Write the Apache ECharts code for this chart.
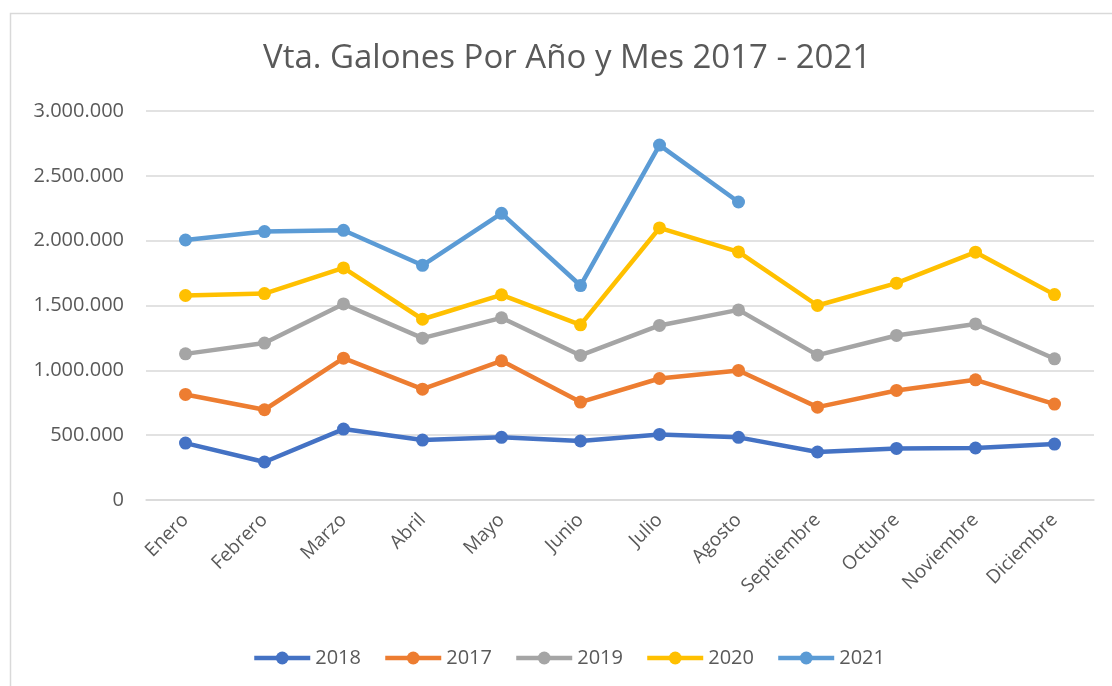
<!DOCTYPE html>
<html><head><meta charset="utf-8">
<script src="https://cdn.jsdelivr.net/npm/echarts@6/dist/echarts.min.js"></script>
<style>html,body{margin:0;padding:0;background:#fff}#c{width:1112px;height:686px}</style>
</head><body><div id="c"></div>
<script>
const months = ['Enero','Febrero','Marzo','Abril','Mayo','Junio','Julio','Agosto','Septiembre','Octubre','Noviembre','Diciembre'];
const s2018 = [439000,293000,547000,462000,483000,455000,506000,483000,370000,398000,401000,431000];
const s2017 = [814000,696000,1094000,855000,1073000,755000,937000,999000,716000,845000,927000,740000];
const s2019 = [1127000,1210000,1512000,1248000,1405000,1115000,1346000,1466000,1117000,1269000,1358000,1089000];
const s2020 = [1577000,1592000,1790000,1394000,1582000,1351000,2098000,1913000,1500000,1672000,1911000,1584000];
const s2021 = [2005000,2070000,2080000,1810000,2211000,1654000,2737000,2298000,null,null,null,null];
const seriesNames = ['2018','2017','2019','2020','2021'];
const seriesData = [s2018,s2017,s2019,s2020,s2021];
const colors = ['#4472C4','#ED7D31','#A5A5A5','#FFC000','#5B9BD5'];
const titleText = 'Vta. Galones Por Año y Mes 2017 - 2021';

const FONT = '"Open Sans", "Noto Sans", sans-serif';
const chart = echarts.init(document.getElementById('c'), null, {renderer:'canvas'});
function fmt(v){ return String(v).replace(/\B(?=(\d{3})+(?!\d))/g,'.'); }
chart.setOption({
  animation:false,
  backgroundColor:'#fff',
  graphic:[{type:'rect', shape:{x:10.5,y:13.5,width:1120,height:700}, style:{fill:'none',stroke:'#d9d9d9',lineWidth:1.5}, silent:true}],
  title:{text:titleText,left:258,top:37,textStyle:{fontFamily:FONT,fontSize:33,fontWeight:'normal',color:'#595959'}},
  legend:{bottom:13,left:247,itemWidth:56,itemHeight:16,itemGap:22,
    lineStyle:{width:4.5},
    textStyle:{fontFamily:FONT,fontSize:20,color:'#595959'},data:seriesNames},
  grid:{left:146,right:18,top:111,bottom:186,containLabel:false},
  xAxis:{type:'category',data:months,boundaryGap:true,
    axisLine:{show:true,lineStyle:{color:'#d9d9d9',width:1.5}},axisTick:{show:false},
    axisLabel:{rotate:45,fontFamily:FONT,fontSize:19,color:'#595959',margin:17,interval:0}},
  yAxis:{type:'value',min:0,max:3000000,interval:500000,
    axisLine:{show:false},axisTick:{show:false},
    splitLine:{lineStyle:{color:'#d9d9d9',width:1.5}},
    axisLabel:{formatter:fmt,fontFamily:FONT,fontSize:20,color:'#595959',margin:22}},
  series: seriesNames.map((n,i)=>({name:n,type:'line',data:seriesData[i],
    symbol:'circle',symbolSize:13,showSymbol:true,connectNulls:false,
    lineStyle:{color:colors[i],width:4.5},itemStyle:{color:colors[i]},z:2+i}))
});
</script></body></html>
